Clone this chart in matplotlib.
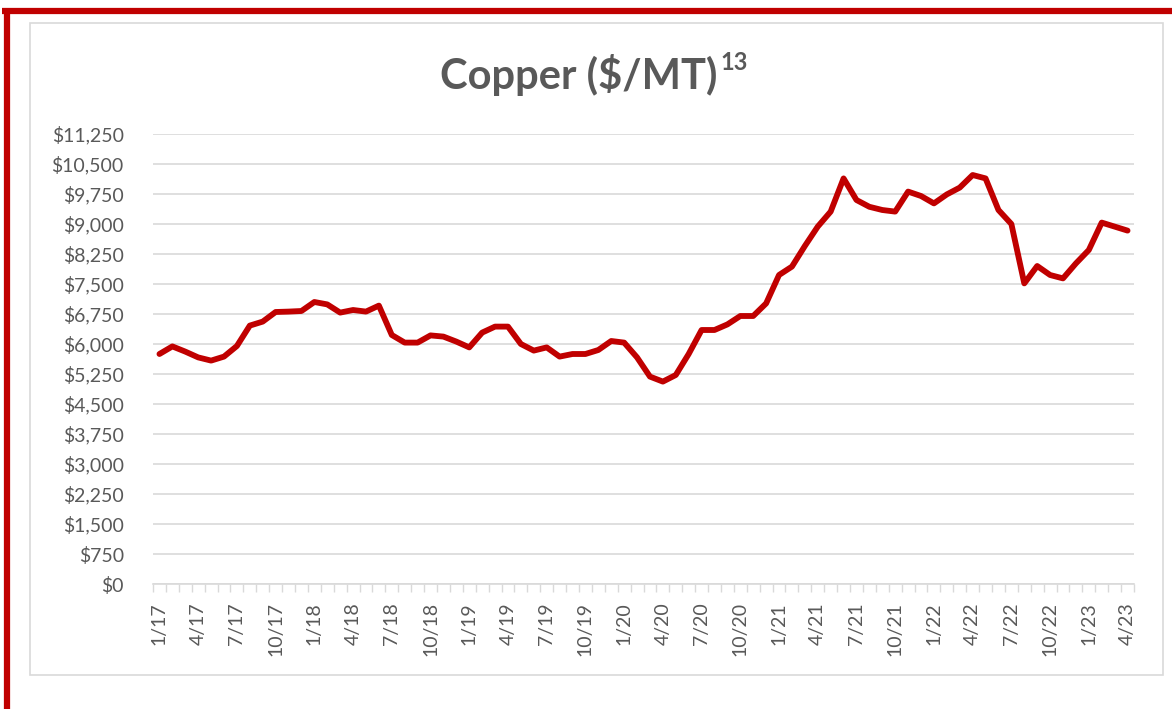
import numpy as np
import matplotlib
matplotlib.use("Agg")
import matplotlib.pyplot as plt
from matplotlib.lines import Line2D
from matplotlib.patches import Rectangle
from matplotlib.ticker import FuncFormatter, MultipleLocator

# monthly copper price, 1/17 .. 4/23
years = [17, 18, 19, 20, 21, 22, 23]
prices = [
    5750, 5940, 5810, 5665, 5585, 5685, 5950, 6460, 6560, 6800, 6810, 6825,   # 2017
    7050, 6990, 6785, 6850, 6810, 6960, 6225, 6035, 6035, 6215, 6185, 6060,   # 2018
    5915, 6285, 6435, 6435, 6000, 5835, 5915, 5685, 5750, 5750, 5850, 6075,   # 2019
    6035, 5665, 5185, 5060, 5225, 5750, 6350, 6350, 6490, 6700, 6700, 7015,   # 2020
    7725, 7935, 8450, 8935, 9310, 10140, 9600, 9430, 9350, 9310, 9810, 9700,  # 2021
    9515, 9740, 9910, 10225, 10140, 9350, 9000, 7515, 7950, 7725, 7640, 8015, # 2022
    8350, 9035, 8935, 8835,                                                   # 2023
]
months = ["%d/%d" % (m, y) for y in years for m in range(1, 13)][:len(prices)]
y_max = 11250
y_step = 750

RED = "#C00000"
GRAY_TXT = "#595959"
GRID = "#D9D9D9"

plt.rcParams["font.family"] = ["Lato", "DejaVu Sans"]

W, H = 1172, 709
fig = plt.figure(figsize=(W / 100, H / 100), dpi=100)

# outer red frame (top and left edges) and light inner chart box
fig.add_artist(Line2D([2 / W, 1.0], [1 - 11 / H, 1 - 11 / H], color=RED, lw=4.5,
                      transform=fig.transFigure, solid_capstyle="butt"))
fig.add_artist(Line2D([7 / W, 7 / W], [0, 1 - 11 / H], color=RED, lw=4.5,
                      transform=fig.transFigure, solid_capstyle="butt"))
fig.add_artist(Rectangle((30 / W, 1 - 675 / H), (1163 - 30) / W, (675 - 23) / H,
                         transform=fig.transFigure, fill=False, ec=GRID, lw=1.2))

ax = fig.add_axes([153 / W, 1 - 584 / H, (1134 - 153) / W, (584 - 134) / H])
x = np.arange(len(prices))
ax.plot(x, prices, color=RED, lw=4.2, solid_joinstyle="round", solid_capstyle="round",
        zorder=3)

ax.set_xlim(-0.5, len(prices) - 0.5)
ax.set_ylim(0, y_max)
ax.yaxis.set_major_locator(MultipleLocator(y_step))
ax.yaxis.set_major_formatter(FuncFormatter(lambda v, p: "${:,.0f}".format(v)))
ax.grid(axis="y", color=GRID, lw=1.2)
ax.set_axisbelow(True)

ax.set_xticks(x[::3])
ax.set_xticklabels(months[::3], rotation=90, va="top", ha="center")
ax.set_xticks(np.arange(len(prices) + 1) - 0.5, minor=True)
ax.tick_params(axis="x", which="major", length=0, pad=13, labelsize=14,
               labelcolor=GRAY_TXT)
ax.tick_params(axis="x", which="minor", length=6, width=1, color=GRID)
ax.tick_params(axis="y", length=0, pad=21, labelsize=14, labelcolor=GRAY_TXT)

for s in ["top", "right", "left"]:
    ax.spines[s].set_visible(False)
ax.spines["bottom"].set_color(GRID)
ax.spines["bottom"].set_linewidth(1.2)

# title with superscript footnote mark
fig.text(717 / W, 1 - 89 / H, "Copper ($/MT)", ha="right", va="baseline",
         fontsize=30, fontweight="bold", color=GRAY_TXT)
fig.text(720 / W, 1 - 70 / H, "13", ha="left", va="baseline",
         fontsize=17, fontweight="bold", color=GRAY_TXT)

fig.savefig("out.png", dpi=100, facecolor="white")
